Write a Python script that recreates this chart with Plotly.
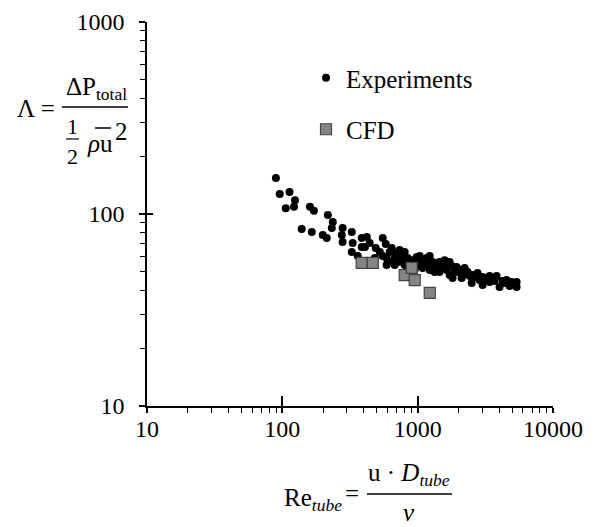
import plotly.graph_objects as go

# ---------------- data ----------------
exp_re = [89.6, 95.7, 113, 106, 124, 122, 139, 165, 160, 171, 199, 213, 217, 236, 232,
          279, 275, 279, 326, 331, 326, 386, 386, 421, 408, 490, 552, 525, 482, 621,
          590, 700, 653, 802, 775, 984, 918, 1165, 1088, 590,
          676, 736, 844, 873, 1000, 1035, 1127, 951, 802, 676, 1227, 1227, 1035,
          643, 736, 581, 442, 361,
          1452, 1722, 1941, 2224, 2773, 3398, 3828, 4538, 5383,
          1452, 1811, 2113, 2506, 3020, 3398, 4027, 4775, 5383,
          1334, 1581, 1875, 2224, 2637, 3120, 3700, 4385, 5026,
          1581, 2042, 2421, 2869, 1722, 1334,
          552, 601, 712, 775, 844, 918, 1035, 1088, 1186, 1291, 1406,
          1503, 1637, 1782, 1974, 2149, 2339, 2547, 3020, 3581, 4238, 4943]
exp_lam = [154, 127, 130, 107, 118, 109, 83.6, 80.5, 109, 104, 77.8, 75, 98.8, 90.8, 84.5,
           84.5, 77.8, 71.5, 80.5, 70.6, 63.4, 75, 67.3, 76, 67.3, 66.5, 75, 63.4, 59, 63.4,
           59, 62.7, 56.2, 63.4, 56.2, 59.7, 54.2, 59, 52.4, 54.2,
           59.0, 59.0, 59.0, 56.2, 56.2, 54.2, 56.2, 51.1, 54.2, 54.2, 60.4, 51.1, 60.4,
           66.5, 64.9, 69.8, 70.6, 60.4,
           56.2, 56.2, 53.0, 52.4, 49.3, 47.5, 47.5, 45.3, 44.3,
           49.9, 46.4, 46.4, 43.7, 42.7, 44.3, 41.7, 42.2, 41.7,
           54.2, 53.0, 50.5, 48.7, 47.0, 45.9, 44.8, 43.7, 43.2,
           57.5, 51.1, 47.5, 45.3, 48.1, 49.9,
           60.4, 56.2, 56.2, 59.7, 53.6, 57.5, 57.5, 56.2, 54.2, 56.2, 52.4,
           54.2, 51.1, 53.6, 49.9, 51.1, 49.9, 48.1, 47.0, 46.4, 44.8, 44.3]

cfd_re = [386, 466, 802, 903, 951, 1228]
cfd_lam = [55.6, 55.6, 48.1, 52.4, 45.3, 38.8]

x_tickvals = [10, 100, 1000, 10000]
x_ticktext = ["10", "100", "1000", "10000"]
y_tickvals = [10, 100, 1000]
y_ticktext = ["10", "100", "1000"]

# ---------------- layout helpers ----------------
W, H = 599, 527
L, R, T, B = 147, 46, 22, 121
PW, PH = W - L - R, H - T - B
FONT = "Liberation Serif"


def xp(p):
    return (p - L) / PW


def yp(p):
    return (H - B - p) / PH


x_minor = [d * 10 ** e for e in range(1, 4) for d in range(2, 10)]
y_minor = [d * 10 ** e for e in range(1, 3) for d in range(2, 10)]

fig = go.Figure()
fig.add_trace(go.Scatter(
    x=exp_re, y=exp_lam, mode="markers", name="Experiments",
    legendgroup="a",
    marker=dict(symbol="circle", size=8, color="black", line=dict(width=0))))
fig.add_trace(go.Scatter(
    x=cfd_re, y=cfd_lam, mode="markers", name="CFD",
    legendgroup="b",
    marker=dict(symbol="square", size=11, color="#858585",
                line=dict(width=1.2, color="#444444"))))
# invisible trace to carry the overlay axes (inside half of crossing ticks)
fig.add_trace(go.Scatter(x=[cfd_re[0]], y=[cfd_lam[0]], mode="markers",
                         marker=dict(opacity=0), xaxis="x2", yaxis="y2",
                         showlegend=False, hoverinfo="skip"))

axis_common = dict(type="log", showgrid=False, zeroline=False, automargin=False,
                   showline=True, linecolor="black", linewidth=1.5,
                   ticks="outside", tickwidth=1.5, tickcolor="black",
                   tickfont=dict(family=FONT, size=24, color="black"))

fig.update_layout(
    width=W, height=H,
    margin=dict(l=L, r=R, t=T, b=B, pad=0, autoexpand=False),
    paper_bgcolor="white", plot_bgcolor="white",
    showlegend=True,
    legend=dict(x=xp(306), y=yp(55), xanchor="left", yanchor="top",
                font=dict(family=FONT, size=25, color="black"),
                bgcolor="rgba(0,0,0,0)", tracegroupgap=16, itemwidth=30),
    xaxis=dict(axis_common, range=[1, 4], tickmode="array", ticklen=5,
               tickvals=x_tickvals, ticktext=x_ticktext,
               ticklabelstandoff=-5,
               minor=dict(tickmode="array", tickvals=x_minor, ticks="outside",
                          ticklen=5, tickwidth=1.2, tickcolor="black")),
    yaxis=dict(axis_common, range=[1, 3], tickmode="array", ticklen=6,
               tickvals=y_tickvals, ticktext=y_ticktext,
               ticklabelstandoff=10,
               minor=dict(tickmode="array", tickvals=y_minor, ticks="outside",
                          ticklen=5, tickwidth=1.2, tickcolor="black")),
    xaxis2=dict(type="log", range=[1, 4], overlaying="x", showgrid=False,
                zeroline=False, showline=False, ticks="inside", ticklen=10,
                tickwidth=1.5, tickcolor="black", showticklabels=False,
                automargin=False,
                tickmode="array", tickvals=x_tickvals, side="bottom"),
    yaxis2=dict(type="log", range=[1, 3], overlaying="y", showgrid=False,
                zeroline=False, showline=False, ticks="inside", ticklen=6,
                tickwidth=1.5, tickcolor="black", showticklabels=False,
                automargin=False,
                tickmode="array", tickvals=y_tickvals, side="left"),
)


def ann(text, x, y, xa="center", ya="middle", size=25):
    fig.add_annotation(text=text, x=xp(x), y=yp(y), xref="paper", yref="paper",
                       xanchor=xa, yanchor=ya, showarrow=False,
                       font=dict(family=FONT, size=size, color="black"))


def hline(x0, x1, y, w=1.5):
    fig.add_shape(type="line", xref="paper", yref="paper",
                  x0=xp(x0), x1=xp(x1), y0=yp(y), y1=yp(y),
                  line=dict(color="black", width=w))


# y-axis title: Λ = ΔP_total / (1/2 ρ ū^2)
ann("Λ =", 36, 108)
hline(62, 128, 107)
ann("ΔP<sub>total</sub>", 96, 106, ya="bottom")
ann("1", 72, 126, size=22)
hline(66, 79, 139, w=1.2)
ann("2", 72, 156, size=22)
ann("<i>ρ</i>u", 100, 143)
hline(95, 111, 128, w=1.5)
ann("2", 121, 131)

# x-axis title: Re_tube = u·D_tube / ν
ann("Re<sub><i>tube</i></sub>", 313, 499)
ann("=", 352, 493)
hline(367, 452, 494)
ann("u · <i>D</i><sub><i>tube</i></sub>", 409, 492, ya="bottom")
ann("<i>ν</i>", 409, 512)

fig.write_html("out.html",
               config={"displayModeBar": False},
               post_script="document.body.style.margin='0px';"
                           "document.body.style.overflow='hidden';")
